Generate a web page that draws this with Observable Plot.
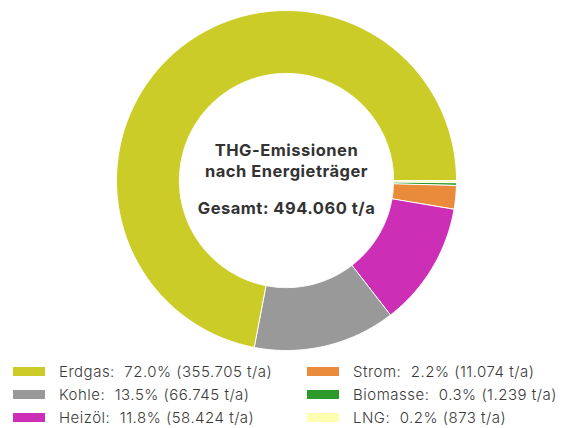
<!DOCTYPE html>
<html>
<head>
<meta charset="utf-8">
<script src="https://cdn.jsdelivr.net/npm/d3@7"></script>
<script src="https://cdn.jsdelivr.net/npm/@observablehq/plot@0.6"></script>
<style>
  html, body { margin: 0; padding: 0; background: #fff; }
  body { width: 569px; height: 428px; overflow: hidden; font-family: Inter, "Open Sans", sans-serif; }
  #legend { display: grid; grid-template-columns: 294px 275px; }
  .item { display: flex; align-items: center; height: 23px; color: #3a3a3a; font-size: 15px; font-weight: 300; letter-spacing: 0.5px; white-space: pre; }
  .sw { width: 32px; height: 9px; margin-left: 13px; margin-right: 14px; flex: none; }
  #chart svg text { letter-spacing: 0.5px; }
</style>
</head>
<body>
<div id="chart"></div>
<div id="legend"></div>
<script>
const categories = ["Erdgas", "Kohle", "Heizöl", "Strom", "Biomasse", "LNG"];
const values = [355705, 66745, 58424, 11074, 1239, 873];
const percents = ["72.0%", "13.5%", "11.8%", "2.2%", "0.3%", "0.2%"];
const valueLabels = ["355.705", "66.745", "58.424", "11.074", "1.239", "873"];
const colors = ["#cccc28", "#999999", "#cc2eb6", "#e98b3a", "#2b9a2b", "#ffffb0"];
const centerTitle = "THG-Emissionen\nnach Energieträger";
const centerTotal = "Gesamt: 494.060 t/a";

const innerR = 0.63;
const outerR = 1.0;

// Slices start at 3 o'clock and run counter-clockwise
const pie = d3.pie().sort(null).value(d => d)(values);
const pts = [];
pie.forEach((p, i) => {
  const a0 = p.startAngle, a1 = p.endAngle;
  const n = Math.max(2, Math.ceil((a1 - a0) / 0.01));
  const cat = categories[i];
  for (let k = 0; k <= n; k++) {
    const a = a0 + (a1 - a0) * k / n;
    pts.push({cat, x: outerR * Math.cos(a), y: outerR * Math.sin(a)});
  }
  for (let k = n; k >= 0; k--) {
    const a = a0 + (a1 - a0) * k / n;
    pts.push({cat, x: innerR * Math.cos(a), y: innerR * Math.sin(a)});
  }
});

const chart = Plot.plot({
  width: 569,
  height: 360,
  marginLeft: 116,
  marginRight: 113,
  marginTop: 10,
  marginBottom: 10,
  x: {domain: [-1, 1], axis: null},
  y: {domain: [-1, 1], axis: null},
  color: {domain: categories, range: colors},
  style: {fontFamily: "Inter, 'Open Sans', sans-serif", background: "#fff"},
  marks: [
    Plot.line(pts, {x: "x", y: "y", z: "cat", fill: "cat", stroke: "#fff", strokeWidth: 1, curve: "linear-closed"}),
    Plot.text([centerTitle], {x: () => 0, y: () => 0, text: d => d, dy: -21, fontSize: 16.5, fontWeight: 700, fill: "#333", lineHeight: 1.33}),
    Plot.text([centerTotal], {x: () => 0, y: () => 0, text: d => d, dy: 28, fontSize: 16.5, fontWeight: 700, fill: "#333"})
  ]
});
document.getElementById("chart").appendChild(chart);

const legend = document.getElementById("legend");
const order = [0, 3, 1, 4, 2, 5];
order.forEach(i => {
  const div = document.createElement("div");
  div.className = "item";
  const sw = document.createElement("span");
  sw.className = "sw";
  sw.style.background = colors[i];
  const t = document.createElement("span");
  t.textContent = `${categories[i]}:  ${percents[i]} (${valueLabels[i]} t/a)`;
  div.appendChild(sw);
  div.appendChild(t);
  legend.appendChild(div);
});
</script>
</body>
</html>
